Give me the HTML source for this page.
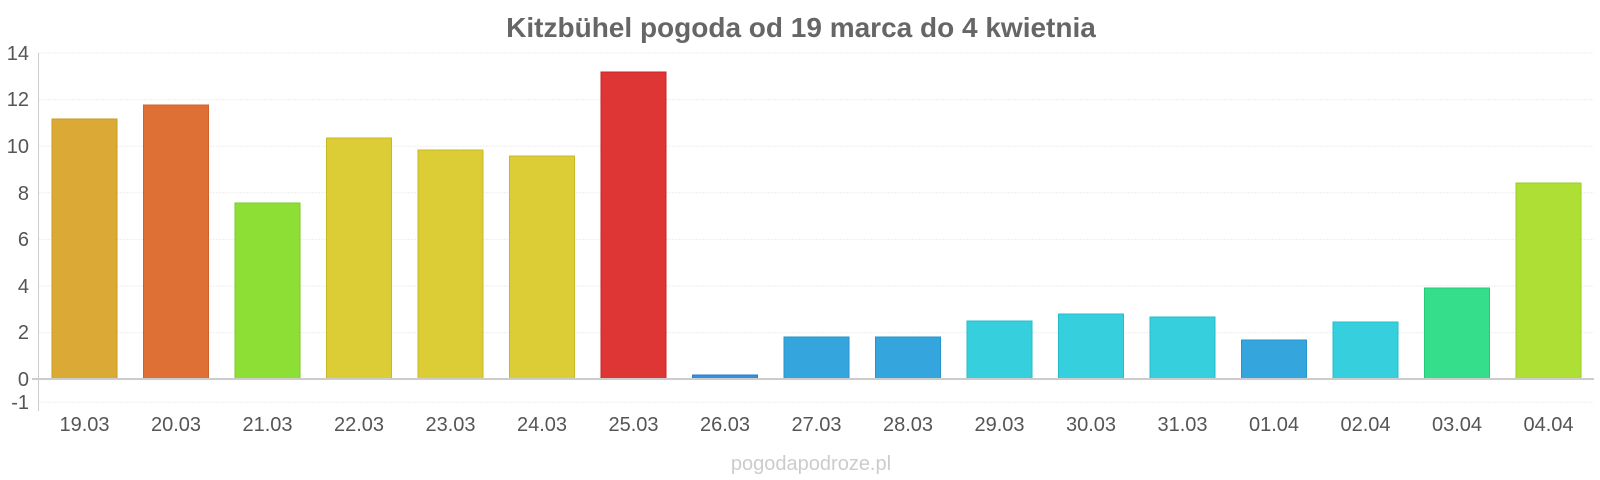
<!DOCTYPE html>
<html><head><meta charset="utf-8"><style>body{margin:0;background:#fff}svg{display:block}</style></head><body>
<svg width="1600" height="480" xmlns="http://www.w3.org/2000/svg" font-family="Liberation Sans, sans-serif">
<text x="801" y="37" text-anchor="middle" font-size="28" font-weight="bold" fill="#666">Kitzbühel pogoda od 19 marca do 4 kwietnia</text>
<g stroke="#eee" stroke-width="1" stroke-dasharray="2,1">
<line x1="39" x2="1594" y1="53" y2="53"/><line x1="39" x2="1594" y1="99.6" y2="99.6"/><line x1="39" x2="1594" y1="146.2" y2="146.2"/><line x1="39" x2="1594" y1="192.8" y2="192.8"/><line x1="39" x2="1594" y1="239.4" y2="239.4"/><line x1="39" x2="1594" y1="286" y2="286"/><line x1="39" x2="1594" y1="332.6" y2="332.6"/><line x1="39" x2="1594" y1="402.3" y2="402.3"/>
</g>
<g font-size="20" fill="#555" text-anchor="end">
<text x="29" y="60">14</text><text x="29" y="106">12</text><text x="29" y="153">10</text><text x="29" y="200">8</text><text x="29" y="246">6</text><text x="29" y="293">4</text><text x="29" y="339">2</text><text x="29" y="386">0</text><text x="29" y="409">-1</text>
</g>
<g stroke-width="1">
<rect x="52" y="119" width="65" height="260" fill="#dba935" stroke="#c99a20"/>
<rect x="143.5" y="105" width="65" height="274" fill="#de7035" stroke="#d0602a"/>
<rect x="235" y="203" width="65" height="176" fill="#8ddf35" stroke="#7acb25"/>
<rect x="326.5" y="138" width="65" height="241" fill="#dccc35" stroke="#c9b925"/>
<rect x="418" y="150" width="65" height="229" fill="#dccc35" stroke="#c9b925"/>
<rect x="509.5" y="156" width="65" height="223" fill="#dccc35" stroke="#c9b925"/>
<rect x="601" y="72" width="65" height="307" fill="#de3535" stroke="#c92525"/>
<rect x="692.5" y="375" width="65" height="4" fill="#358fde" stroke="#2580c9"/>
<rect x="784" y="337" width="65" height="42" fill="#35a5de" stroke="#2595c9"/>
<rect x="875.5" y="337" width="65" height="42" fill="#35a5de" stroke="#2595c9"/>
<rect x="967" y="321" width="65" height="58" fill="#35cfde" stroke="#25bcc9"/>
<rect x="1058.5" y="314" width="65" height="65" fill="#35cfde" stroke="#25bcc9"/>
<rect x="1150" y="317" width="65" height="62" fill="#35cfde" stroke="#25bcc9"/>
<rect x="1241.5" y="340" width="65" height="39" fill="#35a5de" stroke="#2595c9"/>
<rect x="1333" y="322" width="65" height="57" fill="#35cfde" stroke="#25bcc9"/>
<rect x="1424.5" y="288" width="65" height="91" fill="#35de8a" stroke="#25c97a"/>
<rect x="1516" y="183" width="65" height="196" fill="#addf35" stroke="#9acb25"/>
</g>
<line x1="32" x2="1594" y1="379" y2="379" stroke="#ccc" stroke-width="2"/>
<line x1="38.5" x2="38.5" y1="53" y2="411" stroke="#ccc" stroke-width="1"/>
<g font-size="20" fill="#555" text-anchor="middle">
<text x="84.5" y="431">19.03</text><text x="176" y="431">20.03</text><text x="267.5" y="431">21.03</text><text x="359" y="431">22.03</text><text x="450.5" y="431">23.03</text><text x="542" y="431">24.03</text><text x="633.5" y="431">25.03</text><text x="725" y="431">26.03</text><text x="816.5" y="431">27.03</text><text x="908" y="431">28.03</text><text x="999.5" y="431">29.03</text><text x="1091" y="431">30.03</text><text x="1182.5" y="431">31.03</text><text x="1274" y="431">01.04</text><text x="1365.5" y="431">02.04</text><text x="1457" y="431">03.04</text><text x="1548.5" y="431">04.04</text>
</g>
<text x="811" y="470" text-anchor="middle" font-size="20" fill="#ccc">pogodapodroze.pl</text>
</svg>
</body></html>
